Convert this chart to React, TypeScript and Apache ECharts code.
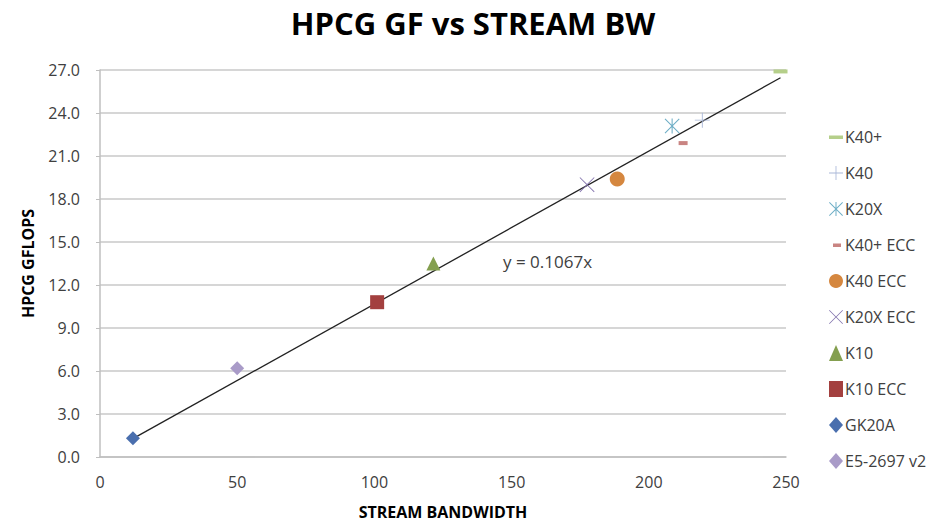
import React, { useEffect, useRef } from "react";
import * as echarts from "echarts";

const seriesNames = ["K40+", "K40", "K20X", "K40+ ECC", "K40 ECC", "K20X ECC", "K10", "K10 ECC", "GK20A", "E5-2697 v2"];
const bandwidth = [248, 219.5, 208.5, 212.5, 188.5, 177.5, 121.5, 101, 12, 50];
const gflops = [26.9, 23.5, 23.1, 21.9, 19.4, 19.0, 13.5, 10.8, 1.3, 6.2];
const colors = ["#b5cf8a", "#a9b7d8", "#6eaec6", "#c98482", "#d5873f", "#8273ad", "#849f4f", "#a3403f", "#4a6fae", "#a99bc8"];
const trendSlope = 0.1067;
const trendRange = [12, 248];
const yTicks = { min: 0, max: 27, interval: 3 };
const xTicks = { min: 0, max: 250, interval: 50 };

const PLUS = "path://M9.4,0 L10.6,0 L10.6,9.4 L20,9.4 L20,10.6 L10.6,10.6 L10.6,20 L9.4,20 L9.4,10.6 L0,10.6 L0,9.4 L9.4,9.4 Z";
const CROSS = "path://M0.8,0 L10,9.2 L19.2,0 L20,0.8 L10.8,10 L20,19.2 L19.2,20 L10,10.8 L0.8,20 L0,19.2 L9.2,10 L0,0.8 Z";
const STAR = "path://M1,0 L10,9 L19,0 L20,1 L11,10 L20,19 L19,20 L10,11 L1,20 L0,19 L9,10 L0,1 Z M9.3,0 L10.7,0 L10.7,20 L9.3,20 Z";
const DASH_ICON = "path://M0,0 L0.01,0 L0,0.01 Z M0,6.5 L14,6.5 L14,10 L0,10 Z M0,16 L0.01,16 L0,16.01 Z";
const DASH_ICON_SHORT = "path://M0,0 L0.01,0 L0,0.01 Z M4,6.5 L12,6.5 L12,10 L4,10 Z M14,16 L13.99,16 L14,15.99 Z";

const symbols: any[] = ["rect", PLUS, STAR, "rect", "circle", CROSS, "triangle", "rect", "diamond", "diamond"];
const sizes: any[] = [[14, 4], 15, 15, [9, 4], 15, 15, 14, 14, 14, 14];
const legendIcons: any[] = [DASH_ICON, PLUS, STAR, DASH_ICON_SHORT, "circle", CROSS, "triangle", "rect", "diamond", "diamond"];

export default function App() {
  const ref = useRef<HTMLDivElement>(null);
  useEffect(() => {
    document.body.style.margin = "0";
    const chart = echarts.init(ref.current!, undefined, { renderer: "svg" });
    const font = "'Open Sans', sans-serif";
    const scatter = seriesNames.map((name, i) => ({
      name,
      type: "scatter",
      symbol: symbols[i],
      symbolSize: sizes[i],
      itemStyle: { color: colors[i], opacity: 1 },
      data: [[bandwidth[i], gflops[i]]],
      z: 3,
    }));
    chart.setOption({
      animation: false,
      textStyle: { fontFamily: font },
      title: {
        text: "HPCG GF vs STREAM BW",
        left: 468,
        textAlign: "center",
        top: 2,
        textStyle: { fontSize: 31, fontWeight: "bold", color: "#000", fontFamily: font },
      },
      grid: { left: 100, right: 163, top: 70, bottom: 65, outerBoundsMode: "none", containLabel: false },
      legend: {
        orient: "vertical",
        left: 829,
        top: 129,
        padding: 0,
        itemGap: 20,
        itemWidth: 14,
        itemHeight: 16,
        data: seriesNames.map((name, i) => ({ name, icon: legendIcons[i] })),
        textStyle: { fontSize: 16, color: "#404040", fontFamily: font, padding: [0, 0, 0, -3] },
      },
      xAxis: {
        type: "value",
        min: xTicks.min,
        max: xTicks.max,
        interval: xTicks.interval,
        name: "STREAM BANDWIDTH",
        nameLocation: "middle",
        nameGap: 47,
        nameTextStyle: { fontSize: 16, fontWeight: "bold", color: "#000", fontFamily: font },
        axisLine: { lineStyle: { color: "#bfbfbf", width: 1.5 } },
        axisTick: { show: false },
        splitLine: { show: false },
        axisLabel: { fontSize: 16, color: "#404040", margin: 17, fontFamily: font },
      },
      yAxis: {
        type: "value",
        min: yTicks.min,
        max: yTicks.max,
        interval: yTicks.interval,
        name: "HPCG GFLOPS",
        nameLocation: "middle",
        nameGap: 64,
        nameTextStyle: { fontSize: 16, fontWeight: "bold", color: "#000", fontFamily: font },
        axisLine: { show: true, lineStyle: { color: "#bfbfbf", width: 1.5 } },
        axisTick: { show: true, length: 4, lineStyle: { color: "#bfbfbf" } },
        splitLine: { lineStyle: { color: "#c8c8c8", width: 1.5 } },
        axisLabel: { fontSize: 16, color: "#404040", margin: 20, fontFamily: font, formatter: (v: number) => v.toFixed(1) },
      },
      series: [
        ...scatter,
        {
          name: "trend",
          type: "line",
          symbol: "none",
          silent: true,
          lineStyle: { color: "#222", width: 1.3 },
          data: trendRange.map((x) => [x, trendSlope * x]),
          z: 2,
        },
      ],
      graphic: [
        {
          type: "text",
          left: 503,
          top: 253,
          style: { text: "y = " + trendSlope + "x", fontSize: 17, fill: "#404040", fontFamily: font },
        },
      ],
    });
    return () => chart.dispose();
  }, []);
  return <div ref={ref} style={{ width: 949, height: 522 }} />;
}
